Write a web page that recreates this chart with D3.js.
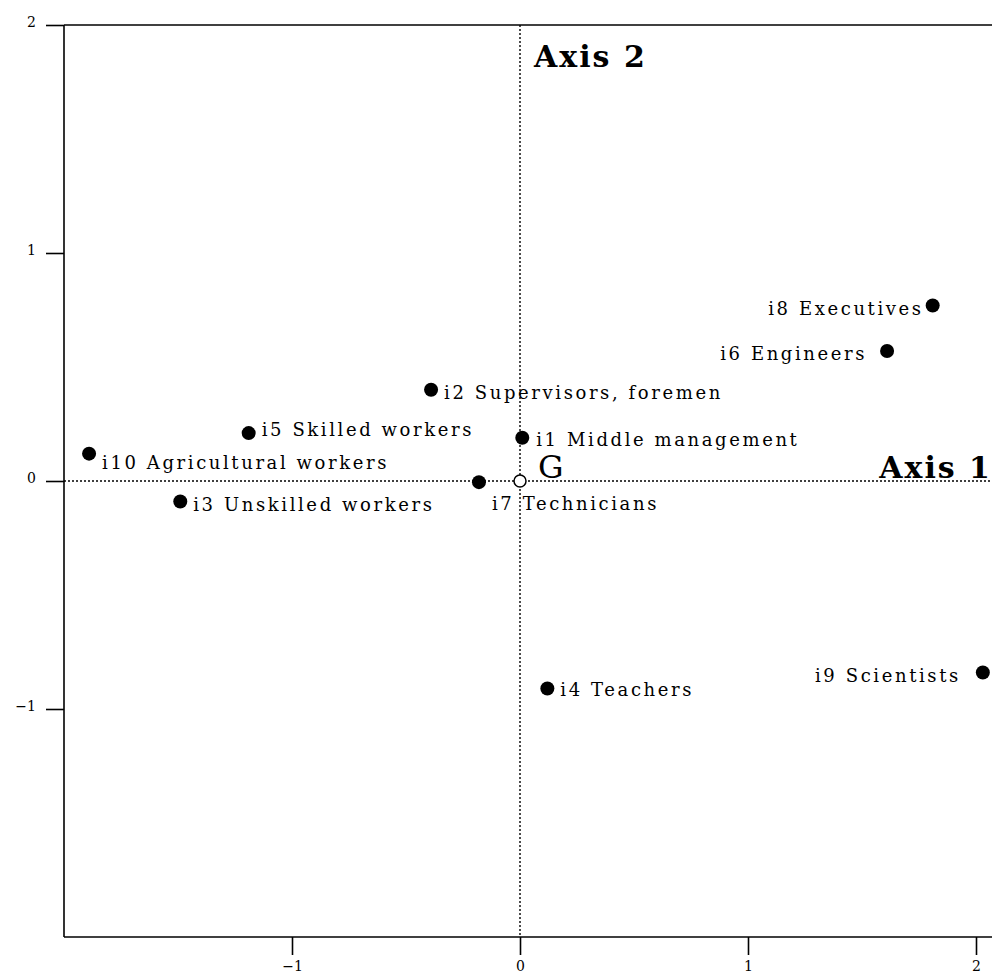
<!DOCTYPE html>
<html>
<head>
<meta charset="utf-8">
<script src="https://cdn.jsdelivr.net/npm/d3@7"></script>
<style>
  body { margin: 0; background: #fff; }
  svg { display: block; }
  .lbl { font-family: "DejaVu Serif", serif; font-size: 18px; letter-spacing: 2.6px; }
  .big { font-family: "DejaVu Serif", serif; }
  .tick text { font-family: "DejaVu Serif", serif; font-size: 14px; }
</style>
</head>
<body>
<svg id="chart" width="992" height="973"></svg>
<script>
// categories (occupations) and their coordinates on the two axes
const names = ["i1 Middle management", "i2 Supervisors, foremen", "i3 Unskilled workers",
    "i4 Teachers", "i5 Skilled workers", "i6 Engineers", "i7 Technicians",
    "i8 Executives", "i9 Scientists", "i10 Agricultural workers"];
const axis1 = [0.01, -0.39, -1.49, 0.12, -1.19, 1.61, -0.18, 1.81, 2.03, -1.89];
const axis2 = [0.19, 0.40, -0.09, -0.91, 0.21, 0.57, -0.005, 0.77, -0.84, 0.12];
const xTicks = [-1, 0, 1, 2];
const yTicks = [-1, 0, 1, 2];

// where each label sits relative to its point
const labelOffset = {
    "i1 Middle management": [14, 8, "start"],
    "i2 Supervisors, foremen": [13, 9, "start"],
    "i3 Unskilled workers": [13, 9, "start"],
    "i4 Teachers": [13, 8, "start"],
    "i5 Skilled workers": [13, 3, "start"],
    "i6 Engineers": [-20, 9, "end"],
    "i7 Technicians": [13, 28, "start"],
    "i8 Executives": [-9, 10, "end"],
    "i9 Scientists": [-22, 9, "end"],
    "i10 Agricultural workers": [13, 15, "start"]
};

const svg = d3.select("#chart");
const margin = {left: 64, right: 0, top: 25, bottom: 36};
const width = 992, height = 973;

const x = d3.scaleLinear().domain([-2, 2.07]).range([margin.left, margin.left + 4.07 * 228]);
const y = d3.scaleLinear().domain([-2, 2]).range([height - margin.bottom, margin.top]);

const fmt = d => d < 0 ? "\u2212" + Math.abs(d) : d;

// bottom axis
const xAxis = svg.append("g")
    .attr("transform", `translate(0,${y(-2)})`)
    .call(d3.axisBottom(x).tickValues(xTicks).tickSize(18).tickPadding(6).tickFormat(fmt));
// left axis
const yAxis = svg.append("g")
    .attr("transform", `translate(${x(-2)},0)`)
    .call(d3.axisLeft(y).tickValues(yTicks).tickSize(18).tickPadding(10).tickFormat(fmt));

[xAxis, yAxis].forEach(a => {
    a.select(".domain").remove();
    a.selectAll(".tick line").attr("stroke", "#000").attr("stroke-width", 1.6);
    a.selectAll(".tick text").attr("fill", "#000");
});
yAxis.selectAll(".tick text").attr("dy", "0.1em");

// frame: left, bottom, top
const frame = [[x(-2), y(2), x(-2), y(-2)], [x(-2), y(-2), width, y(-2)], [x(-2), y(2), width, y(2)]];
svg.append("g").selectAll("line").data(frame).join("line")
    .attr("x1", d => d[0]).attr("y1", d => d[1]).attr("x2", d => d[2]).attr("y2", d => d[3])
    .attr("stroke", "#000").attr("stroke-width", 1.6);

// dotted axes through G
svg.append("line").attr("x1", x(-2)).attr("x2", width).attr("y1", y(0)).attr("y2", y(0))
    .attr("stroke", "#000").attr("stroke-width", 1.4).attr("stroke-dasharray", "2,2");
svg.append("line").attr("x1", x(0)).attr("x2", x(0)).attr("y1", y(2)).attr("y2", y(-2))
    .attr("stroke", "#000").attr("stroke-width", 1.4).attr("stroke-dasharray", "2,2");

svg.append("text").attr("class", "big")
    .attr("x", x(0) + 14).attr("y", y(2) + 42)
    .style("font-size", "30px").style("font-weight", "bold").style("letter-spacing", "2px")
    .text("Axis 2");
svg.append("text").attr("class", "big")
    .attr("x", width).attr("y", y(0) - 3).attr("text-anchor", "end")
    .style("font-size", "30px").style("font-weight", "bold").style("letter-spacing", "2px")
    .text("Axis 1");

// centre of gravity
svg.append("circle").attr("cx", x(0)).attr("cy", y(0)).attr("r", 6)
    .attr("fill", "#fff").attr("stroke", "#000").attr("stroke-width", 1.5);
svg.append("text").attr("class", "big").attr("x", x(0) + 18).attr("y", y(0) - 3)
    .style("font-size", "32px").text("G");

const pts = names.map((n, i) => ({name: n, a1: axis1[i], a2: axis2[i]}));

const g = svg.append("g").selectAll("g").data(pts).join("g");
g.append("circle")
    .attr("cx", d => x(d.a1)).attr("cy", d => y(d.a2)).attr("r", 7).attr("fill", "#000");
g.append("text").attr("class", "lbl")
    .attr("x", d => x(d.a1) + labelOffset[d.name][0])
    .attr("y", d => y(d.a2) + labelOffset[d.name][1])
    .attr("text-anchor", d => labelOffset[d.name][2])
    .text(d => d.name);
</script>
</body>
</html>
